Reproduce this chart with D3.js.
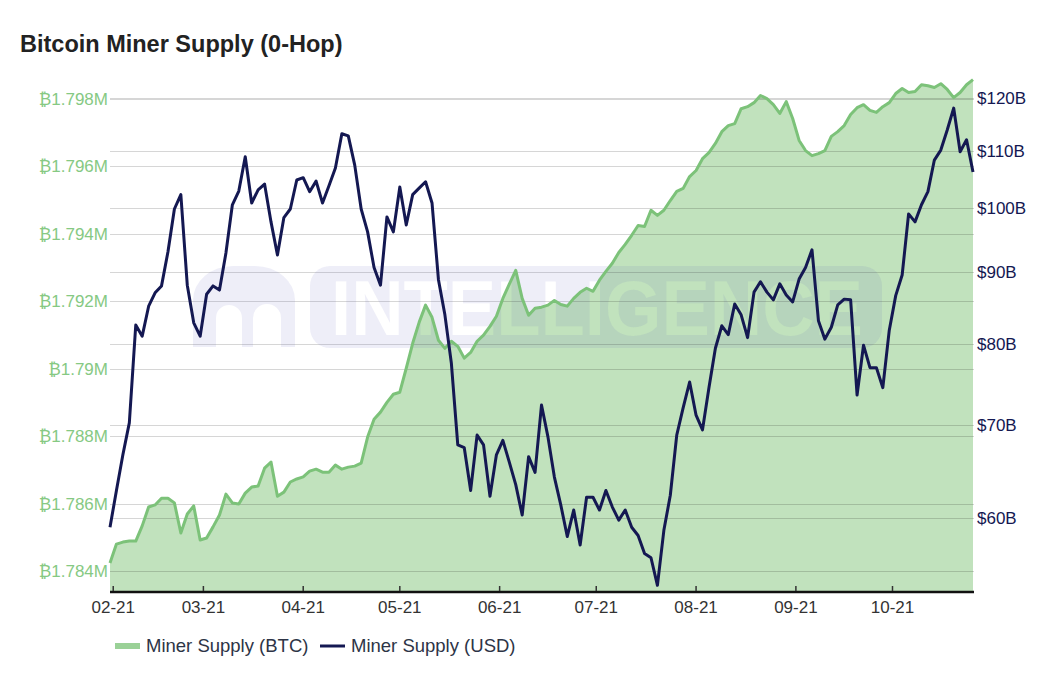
<!DOCTYPE html>
<html>
  <head>
    <title>Bitcoin Miner Supply (0-Hop)</title>
    <script src="https://cdn.jsdelivr.net/npm/d3@7"></script>
    <style type="text/css">

body {
  margin: 0;
  background: #fff;
  font-family: "Liberation Sans", Arial, "DejaVu Sans", sans-serif;
}

    </style>
  </head>
  <body>
    <script type="text/javascript">

// every 2 days, 2021-01-31 .. 2021-10-26
var startDay = new Date(2021, 0, 31),
    endDay = new Date(2021, 9, 27),
    dates = d3.timeDay.range(startDay, endDay, 2);

// Miner Supply (BTC), in BTC
var btcSupply = [
  1784240, 1784800, 1784860, 1784890, 1784890, 1785340, 1785900, 1785960, 1786160, 1786160,
  1786020, 1785130, 1785690, 1785930, 1784920, 1784980, 1785310, 1785660, 1786280, 1786020,
  1785990, 1786310, 1786490, 1786520, 1787050, 1787230, 1786220, 1786340, 1786640, 1786730,
  1786790, 1786960, 1787020, 1786930, 1786930, 1787140, 1787020, 1787080, 1787110, 1787200,
  1787970, 1788500, 1788710, 1789000, 1789240, 1789300, 1790010, 1790750, 1791370, 1791880,
  1791520, 1790840, 1790600, 1790810, 1790660, 1790310, 1790480, 1790810, 1790990, 1791250,
  1791550, 1792080, 1792500, 1792910, 1792080, 1791580, 1791790, 1791820, 1791880, 1792020,
  1791900, 1791850, 1792080, 1792260, 1792380, 1792290, 1792620, 1792880, 1793120, 1793440,
  1793680, 1793950, 1794240, 1794210, 1794690, 1794540, 1794690, 1794980, 1795250, 1795340,
  1795690, 1795870, 1796220, 1796400, 1796670, 1797020, 1797200, 1797260, 1797700, 1797760,
  1797880, 1798090, 1798000, 1797820, 1797560, 1797910, 1797410, 1796760, 1796460, 1796310,
  1796370, 1796460, 1796880, 1797020, 1797200, 1797530, 1797730, 1797820, 1797650, 1797590,
  1797760, 1797880, 1798150, 1798300, 1798180, 1798210, 1798410, 1798380, 1798330, 1798440,
  1798270, 1798030, 1798180, 1798410, 1798560
];

// Miner Supply (USD), in $B
var usdSupply = [
  59.1, 62.8, 66.6, 70.2, 82.5, 81.0, 85.1, 87.0, 88.0, 93.1,
  99.9, 102.3, 88.1, 82.8, 81.0, 86.8, 88.0, 87.4, 92.9, 100.6,
  102.9, 108.9, 100.9, 103.1, 104.1, 97.8, 92.6, 98.5, 99.9, 104.8,
  105.2, 102.8, 104.6, 100.9, 103.8, 106.9, 113.1, 112.7, 107.4, 99.9,
  96.2, 90.7, 88.1, 98.6, 96.2, 103.6, 97.3, 102.3, 103.4, 104.5,
  100.9, 88.9, 83.9, 77.5, 67.7, 67.4, 62.8, 68.8, 67.7, 62.2,
  66.6, 68.2, 65.8, 63.4, 60.3, 66.4, 64.7, 72.3, 68.6, 64.2,
  61.3, 58.2, 60.8, 57.4, 62.1, 62.1, 60.8, 62.8, 61.1, 59.8,
  60.8, 59.1, 58.3, 56.6, 56.2, 53.7, 58.8, 62.3, 68.8, 72.0,
  75.1, 71.1, 69.4, 74.4, 79.4, 82.4, 81.2, 85.4, 83.9, 80.8,
  87.1, 88.6, 87.1, 86.0, 88.3, 86.7, 85.7, 89.0, 90.7, 93.4,
  83.1, 80.6, 82.2, 85.3, 86.1, 86.0, 73.5, 79.8, 76.9, 76.9,
  74.4, 81.8, 86.6, 89.6, 99.1, 97.8, 100.6, 102.8, 108.3, 110.1,
  113.8, 118.0, 109.8, 112.0, 106.2
];

var btcTicks = [1784000, 1786000, 1788000, 1790000, 1792000, 1794000, 1796000, 1798000],
    usdTicks = [60, 70, 80, 90, 100, 110, 120],
    monthTicks = d3.timeMonth.range(new Date(2021, 1, 1), new Date(2021, 9, 2));

var w = 1062,
    h = 679,
    plotLeft = 110,
    plotRight = 974,
    plotTop = 78,
    plotBottom = 591,
    green = "#7cc279",
    greenFill = "#c1e2bd",
    navy = "#141852";

var x = d3.scaleTime()
    .domain([startDay, new Date(2021, 9, 26)])
    .range([plotLeft, plotRight - 1]);

var yBtc = d3.scaleLinear()
    .domain([1783410, 1798610])
    .range([plotBottom, plotTop]);

var yUsd = d3.scaleLog()
    .domain([53.2, 124])
    .range([plotBottom, plotTop]);

var svg = d3.select("body")
  .append("svg")
    .attr("width", w)
    .attr("height", h);

svg.append("text")
    .attr("x", 20)
    .attr("y", 52)
    .attr("font-size", 23.5)
    .attr("font-weight", "bold")
    .attr("fill", "#222")
    .text("Bitcoin Miner Supply (0-Hop)");

// green area under the BTC line
var btcData = dates.map(function(d, i) { return [d, btcSupply[i]]; }),
    usdData = dates.map(function(d, i) { return [d, usdSupply[i]]; });

svg.append("path")
    .datum(btcData)
    .attr("fill", greenFill)
    .attr("d", d3.area()
      .x(function(d) { return x(d[0]); })
      .y0(plotBottom)
      .y1(function(d) { return yBtc(d[1]); }));

// grid lines from both axes
var grid = svg.append("g")
    .attr("stroke", "rgba(0,0,0,0.16)")
    .attr("stroke-width", 1);

grid.selectAll("line.b")
    .data(btcTicks)
  .enter().append("line")
    .attr("class", "b")
    .attr("x1", plotLeft).attr("x2", plotRight)
    .attr("y1", function(d) { return Math.round(yBtc(d)) + .5; })
    .attr("y2", function(d) { return Math.round(yBtc(d)) + .5; });

grid.selectAll("line.u")
    .data(usdTicks)
  .enter().append("line")
    .attr("class", "u")
    .attr("x1", plotLeft).attr("x2", plotRight)
    .attr("y1", function(d) { return Math.round(yUsd(d)) + .5; })
    .attr("y2", function(d) { return Math.round(yUsd(d)) + .5; });

// watermark, letters cut out of a pale band
var mask = svg.append("defs").append("mask").attr("id", "wm");
mask.append("rect").attr("width", w).attr("height", h).attr("fill", "#fff");
mask.append("text")
    .attr("x", 331)
    .attr("y", 335)
    .attr("font-size", 77)
    .attr("font-weight", "bold")
    .attr("textLength", 532)
    .attr("lengthAdjust", "spacingAndGlyphs")
    .attr("fill", "#000")
    .text("INTELLIGENCE");
mask.append("path")
    .attr("fill", "#000")
    .attr("d", "M216,347V318a13,13 0 0 1 26,0V347Z M253,347V318a14,14 0 0 1 28,0V347Z");

var wm = svg.append("g")
    .attr("mask", "url(#wm)")
    .attr("fill", "rgba(90,90,190,0.1)");

wm.append("rect")
    .attr("x", 310).attr("y", 266)
    .attr("width", 572).attr("height", 82)
    .attr("rx", 20);

wm.append("path")
    .attr("d", "M193,347V300a40,34 0 0 1 40,-34h22a40,34 0 0 1 40,34V347Z");

// lines
svg.append("path")
    .datum(btcData)
    .attr("fill", "none")
    .attr("stroke", green)
    .attr("stroke-width", 3)
    .attr("stroke-linejoin", "round")
    .attr("d", d3.line()
      .x(function(d) { return x(d[0]); })
      .y(function(d) { return yBtc(d[1]); }));

svg.append("path")
    .datum(usdData)
    .attr("fill", "none")
    .attr("stroke", navy)
    .attr("stroke-width", 3)
    .attr("stroke-linejoin", "round")
    .attr("d", d3.line()
      .x(function(d) { return x(d[0]); })
      .y(function(d) { return yUsd(d[1]); }));

// left axis labels
var fmtBtc = d3.format(".3~f");
svg.append("g").selectAll("text")
    .data(btcTicks)
  .enter().append("text")
    .attr("x", 108)
    .attr("y", function(d) { return yBtc(d); })
    .attr("dy", ".35em")
    .attr("text-anchor", "end")
    .attr("font-size", 17)
    .attr("fill", "#86c983")
    .text(function(d) { return "\u20bf" + fmtBtc(d / 1e6) + "M"; });

// right axis labels
svg.append("g").selectAll("text")
    .data(usdTicks)
  .enter().append("text")
    .attr("x", 977)
    .attr("y", function(d) { return yUsd(d); })
    .attr("dy", ".35em")
    .attr("font-size", 17)
    .attr("fill", navy)
    .text(function(d) { return "$" + d + "B"; });

// bottom axis
var ax = svg.append("g");
ax.append("line")
    .attr("x1", plotLeft).attr("x2", plotRight)
    .attr("y1", plotBottom + 1).attr("y2", plotBottom + 1)
    .attr("stroke", "#111")
    .attr("stroke-width", 2.5);

ax.selectAll("line.tick")
    .data(monthTicks)
  .enter().append("line")
    .attr("class", "tick")
    .attr("x1", function(d) { return x(d); })
    .attr("x2", function(d) { return x(d); })
    .attr("y1", plotBottom - 5).attr("y2", plotBottom)
    .attr("stroke", "#333")
    .attr("stroke-width", 1.5);

ax.selectAll("text")
    .data(monthTicks)
  .enter().append("text")
    .attr("x", function(d) { return x(d); })
    .attr("y", 613)
    .attr("text-anchor", "middle")
    .attr("font-size", 17)
    .attr("fill", "#333")
    .text(d3.timeFormat("%m-%y"));

// legend
var legend = svg.append("g").attr("font-size", 18.5).attr("fill", "#2d3446");

legend.append("line")
    .attr("x1", 115).attr("x2", 140)
    .attr("y1", 646).attr("y2", 646)
    .attr("stroke", "#9ad197")
    .attr("stroke-width", 6);

legend.append("text")
    .attr("x", 146).attr("y", 652)
    .text("Miner Supply (BTC)");

legend.append("line")
    .attr("x1", 320).attr("x2", 345)
    .attr("y1", 646).attr("y2", 646)
    .attr("stroke", navy)
    .attr("stroke-width", 3);

legend.append("text")
    .attr("x", 351).attr("y", 652)
    .text("Miner Supply (USD)");

    </script>
  </body>
</html>
